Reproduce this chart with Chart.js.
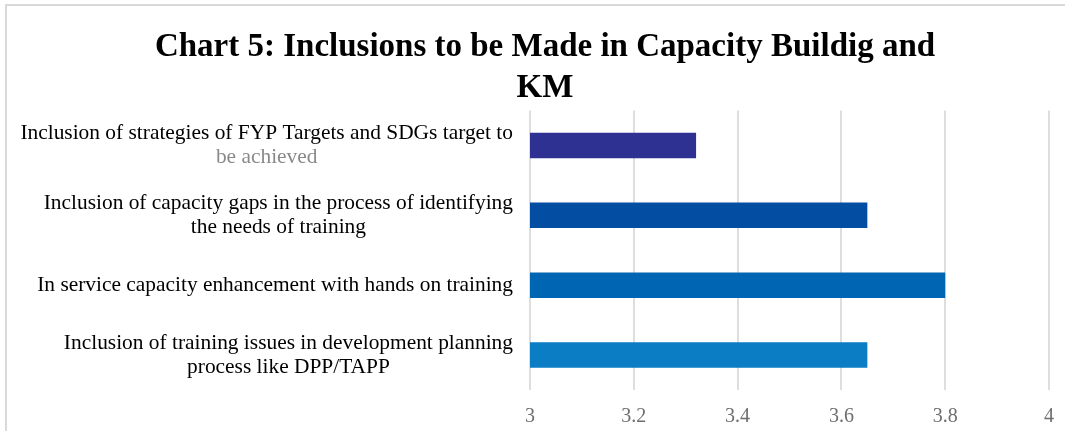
<!DOCTYPE html>
<html>
<head>
<meta charset="utf-8">
<title>Chart 5</title>
<script src="https://cdn.jsdelivr.net/npm/chart.js@4"></script>
<style>
  body { margin: 0; background: #fff; }
  #wrap { position: relative; width: 1065px; height: 431px; overflow: hidden; }
  #frame { position: absolute; left: 5px; top: 4px; right: -4px; bottom: -4px;
           border-top: 2px solid #d9d9d9; border-left: 2px solid #d9d9d9; }
  #box { position: absolute; left: 0; top: 0; width: 1065px; height: 431px; }
</style>
</head>
<body>
<div id="wrap">
  <div id="frame"></div>
  <div id="box"><canvas id="myChart"></canvas></div>
</div>
<script>
// categories (one entry per line of the wrapped label), top to bottom
var categories = [
  ["Inclusion of strategies of FYP Targets and SDGs target to", "be achieved"],
  ["Inclusion of capacity gaps in the process of identifying", "the needs of training"],
  ["In service capacity enhancement with hands on training"],
  ["Inclusion of training issues in development planning", "process like DPP/TAPP"]
];
var scores = [3.32, 3.65, 3.80, 3.65];
var xTicks = [3, 3.2, 3.4, 3.6, 3.8, 4];

var barColors = ["#2e3192", "#034ea2", "#0066b3", "#0a7dc5"];
var greyLines = ["be achieved"];
var serif = '"Liberation Serif", "Times New Roman", serif';

// y labels are drawn by hand so a single line can be greyed out
var categoryLabels = {
  id: "categoryLabels",
  afterDraw: function (chart) {
    var ctx = chart.ctx;
    var yScale = chart.scales.y;
    var lineH = 24;
    ctx.save();
    ctx.font = "21.4px " + serif;
    ctx.textAlign = "center";
    ctx.textBaseline = "middle";
    categories.forEach(function (lines, i) {
      var w = 0;
      lines.forEach(function (t) { w = Math.max(w, ctx.measureText(t).width); });
      var cx = chart.chartArea.left - 17 - w / 2;
      var cy = yScale.getPixelForTick(i);
      lines.forEach(function (t, j) {
        ctx.fillStyle = greyLines.indexOf(t) >= 0 ? "#8a8a8a" : "#000000";
        ctx.fillText(t, cx, cy + (j - (lines.length - 1) / 2) * lineH);
      });
    });
    ctx.restore();
  }
};

new Chart("myChart", {
  type: "bar",
  data: {
    labels: categories,
    datasets: [{
      data: scores,
      backgroundColor: barColors,
      categoryPercentage: 1,
      barPercentage: 0.365
    }]
  },
  plugins: [categoryLabels],
  options: {
    indexAxis: "y",
    responsive: true,
    maintainAspectRatio: false,
    animation: false,
    layout: { padding: { left: 41, right: 16, top: 0, bottom: 0 } },
    plugins: {
      legend: { display: false },
      tooltip: { enabled: false },
      title: {
        display: true,
        text: ["Chart 5: Inclusions to be Made in Capacity Buildig and", "KM"],
        color: "#000000",
        font: { family: serif, size: 33, weight: "bold", lineHeight: 1.25 },
        padding: { top: 27, bottom: 1 }
      }
    },
    scales: {
      x: {
        min: 3,
        max: 4,
        afterBuildTicks: function (scale) {
          scale.ticks = xTicks.map(function (v) { return { value: v }; });
        },
        afterFit: function (scale) {
          scale.height = 41;
          scale.paddingLeft = 0;
          scale.paddingRight = 0;
        },
        grid: { color: "#dedede", lineWidth: 2, drawTicks: false },
        border: { display: false },
        ticks: {
          padding: 15,
          color: "#6e6e6e",
          font: { family: serif, size: 20 },
          callback: function (v) { return String(Math.round(v * 10) / 10); }
        }
      },
      y: {
        afterFit: function (scale) { scale.width = 530 - 41; },
        grid: { display: false },
        border: { display: false },
        ticks: { display: false }
      }
    }
  }
});
</script>
</body>
</html>
